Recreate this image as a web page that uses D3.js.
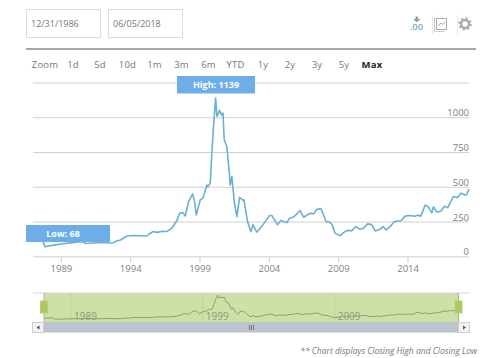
<!DOCTYPE html>
<html><head><meta charset="utf-8">
<script src="https://cdn.jsdelivr.net/npm/d3@7"></script>
<style>html,body{margin:0;padding:0;background:#fff}svg{display:block}text{font-family:"Open Sans",sans-serif}</style>
</head><body><svg id="c" width="500" height="358"></svg>
<script>
const dateFrom = "12/31/1986", dateTo = "06/05/2018";
const zoomLabels = ["Zoom","1d","5d","10d","1m","3m","6m","YTD","1y","2y","3y","5y","Max"];
const xTicks = [1989,1994,1999,2004,2009,2014];
const yTicks = [0,250,500,750,1000];
const navTicks = [1989,1999,2009];
const years = [1986.99,1987.3,1987.6,1987.75,1987.85,1988.2,1988.6,1989,1989.5,1990,1990.5,1990.8,1991.3,1992,1992.5,1992.8,1993,1993.3,1993.77,1994.25,1994.7,1995.2,1995.45,1995.64,1995.93,1996.41,1996.65,1997,1997.37,1997.56,1997.8,1997.97,1998.21,1998.5,1998.64,1998.76,1999.05,1999.24,1999.53,1999.6,1999.77,1999.87,2000.01,2000.16,2000.25,2000.45,2000.57,2000.69,2000.78,2000.97,2001.17,2001.21,2001.33,2001.5,2001.69,2001.89,2002.13,2002.2,2002.46,2002.7,2002.85,2003.13,2003.62,2004.05,2004.22,2004.53,2004.62,2004.86,2005.3,2005.49,2005.82,2006.25,2006.5,2006.98,2007.22,2007.46,2007.75,2007.94,2008.13,2008.3,2008.54,2008.78,2009.14,2009.38,2009.62,2009.98,2010.27,2010.58,2010.82,2011.11,2011.42,2011.66,2012.02,2012.22,2012.46,2012.74,2013.03,2013.27,2013.51,2013.82,2014.18,2014.55,2014.71,2014.95,2015.27,2015.5,2015.75,2015.87,2016.1,2016.4,2016.66,2016.9,2017.3,2017.6,2017.84,2018.15,2018.27,2018.43];
const values = [105,120,130,100,68,76,82,88,95,100,106,92,96,100,96,98,110,117,146,150,148,146,166,178,172,180,178,202,257,310,314,290,394,449,394,297,406,418,512,500,526,718,934,1139,1006,1049,1017,1030,836,790,574,512,574,394,286,425,401,408,250,177,226,173,233,293,293,242,226,257,242,274,285,329,281,310,305,338,343,297,249,249,230,165,149,170,185,185,213,194,202,233,228,182,194,213,190,213,249,254,254,289,293,288,296,289,368,356,313,356,319,324,360,350,430,422,454,441,445,484];
const highLabel = "High: 1139", lowLabel = "Low: 68";
const footnote = "** Chart displays Closing High and Closing Low";

const svg = d3.select("#c");
const buttonX = [45,73,100,127.5,154.5,181.5,208.5,235.5,263,290,317,344,372];

// date boxes
[[dateFrom,26],[dateTo,108]].forEach(([t,x])=>{
  svg.append("rect").attr("x",x+.5).attr("y",9.5).attr("width",74).attr("height",28).attr("fill","#fff").attr("stroke","#dcdcdc");
  svg.append("text").attr("x",x+5).attr("y",27).attr("font-size",9).attr("fill","#777").text(t);
});
svg.append("line").attr("x1",26).attr("x2",476).attr("y1",49).attr("y2",49).attr("stroke","#8a8a8a").attr("stroke-width",1.5);

// icons
const ic = svg.append("g");
ic.append("text").attr("x",416.5).attr("y",30).attr("text-anchor","middle").attr("font-size",9.5).attr("font-weight",600).attr("fill","#6ab0d2").text(".00");
ic.append("path").attr("d","M415.500 16.500h2.500v2.500h2.500l-3.700 3.300-3.700-3.300h2.400z").attr("fill","#9a9a9a");
ic.append("line").attr("x1",432.5).attr("x2",432.5).attr("y1",15).attr("y2",34).attr("stroke","#e8e8e8");
ic.append("rect").attr("x",436.5).attr("y",18.5).attr("width",10).attr("height",11).attr("fill","none").attr("stroke","#aaa");
ic.append("path").attr("d","M434.500 17v14.500h10").attr("fill","none").attr("stroke","#ccc");
ic.append("path").attr("d","M438 26l3-3 2 1.500 2.500-3").attr("fill","none").attr("stroke","#999").attr("stroke-width",.8);
ic.append("line").attr("x1",457.5).attr("x2",457.5).attr("y1",15).attr("y2",34).attr("stroke","#e8e8e8");
ic.append("circle").attr("cx",465).attr("cy",24).attr("r",4).attr("fill","none").attr("stroke","#aaa").attr("stroke-width",2.5);
ic.append("circle").attr("cx",465).attr("cy",24).attr("r",5.8).attr("fill","none").attr("stroke","#aaa").attr("stroke-width",1.8).attr("stroke-dasharray","2 2.55");

// zoom buttons
svg.append("g").selectAll("text").data(zoomLabels).join("text")
  .attr("x",(d,i)=>buttonX[i]).attr("y",68).attr("text-anchor","middle")
  .attr("font-size",9.5).attr("letter-spacing",.2)
  .attr("font-weight",d=>d==="Max"?700:400).attr("fill",d=>d==="Max"?"#222":"#777").text(d=>d);

// main chart
const x = d3.scaleLinear().domain([1986.99,2018.43]).range([33,469]);
const y = d3.scaleLinear().domain([0,1250]).range([256.3,82.5]);

const gy = svg.append("g").attr("transform","translate(469,0)")
  .call(d3.axisLeft(y).tickValues([...yTicks,1250]).tickSize(436).tickPadding(0).tickFormat(d=>yTicks.includes(d)?d:""));
gy.select(".domain").remove();
gy.selectAll(".tick line").attr("stroke","#cfcfcf");
gy.selectAll(".tick text").attr("x",0).attr("dy",-1.5).attr("text-anchor","end").attr("font-size",9.5).attr("fill","#808080").style("font-family",'"Open Sans",sans-serif');

const gx = svg.append("g").attr("transform","translate(0,256.3)")
  .call(d3.axisBottom(x).tickValues(xTicks).tickSize(6).tickPadding(3).tickFormat(d3.format("d")));
gx.select(".domain").remove();
gx.selectAll(".tick line").attr("stroke","#cfcfcf");
gx.selectAll(".tick text").attr("font-size",9.5).attr("fill","#808080").style("font-family",'"Open Sans",sans-serif');

const pts = years.map((t,i)=>[t,values[i]]);
svg.append("path").datum(pts).attr("fill","none").attr("stroke","#68b2cf").attr("stroke-width",1.6).attr("stroke-linejoin","round")
  .attr("d",d3.line().x(d=>x(d[0])).y(d=>y(d[1])));

// labels
function flag(t,x0,x1,y0,y1,cx){
  svg.append("rect").attr("x",x0).attr("y",y0).attr("width",x1-x0).attr("height",y1-y0).attr("fill","#6eaee8");
  svg.append("text").attr("x",cx).attr("y",(y0+y1)/2+3.2).attr("text-anchor","middle").attr("font-size",9).attr("font-weight",700).attr("fill","#fff").text(t);
}
flag(highLabel,177,255,76,93.5,216);
flag(lowLabel,26,110,225,242,63);

// navigator
const nx = d3.scaleLinear().domain([1986.99,2018.43]).range([44,458.5]);
const ny = d3.scaleLinear().domain([68,1139]).range([319.3,295]);
svg.append("rect").attr("x",44).attr("y",293).attr("width",414.5).attr("height",29).attr("fill","#cfe0a6");
svg.append("line").attr("x1",33).attr("x2",469).attr("y1",293).attr("y2",293).attr("stroke","#d5d5d5");
const gn = svg.append("g").attr("transform","translate(0,293)")
  .call(d3.axisBottom(nx).tickValues(navTicks).tickSize(29).tickPadding(-10).tickFormat(d3.format("d")));
gn.select(".domain").remove();
gn.selectAll(".tick line").attr("stroke","#c2d596");
gn.selectAll(".tick text").attr("text-anchor","start").attr("x",3).attr("y",27).attr("dy",0).attr("font-size",10).attr("fill","#8f9a80").style("font-family",'"Open Sans",sans-serif');
svg.append("path").datum(pts).attr("fill","none").attr("stroke","#85a378").attr("stroke-width",1)
  .attr("d",d3.line().x(d=>nx(d[0])).y(d=>ny(d[1])));
[44,458.5].forEach(h=>{
  svg.append("line").attr("x1",h).attr("x2",h).attr("y1",293).attr("y2",322).attr("stroke","#a9b98a");
  svg.append("rect").attr("x",h-3.5).attr("y",301).attr("width",7).attr("height",12).attr("fill","#aaca5c").attr("stroke","#b7d074");
});
// scrollbar
svg.append("rect").attr("x",44).attr("y",322).attr("width",414.5).attr("height",10.5).attr("fill","#bcc4d0");
[[32.5,"M39.500 325.500v4l-3-2z"],[458.5,"M463 325.500v4l3-2z"]].forEach(([bx,p])=>{
  svg.append("rect").attr("x",bx).attr("y",322.5).attr("width",11).attr("height",10).attr("fill","#f2f2f2").attr("stroke","#d0d0d0");
  svg.append("path").attr("d",p).attr("fill","#555");
});
[250,252,254].forEach(g=>svg.append("line").attr("x1",g-.5).attr("x2",g-.5).attr("y1",325).attr("y2",330).attr("stroke","#777"));

svg.append("text").attr("x",477).attr("y",354).attr("text-anchor","end").attr("font-size",8.5).attr("font-style","italic").attr("fill","#777").text(footnote);
</script></body></html>
